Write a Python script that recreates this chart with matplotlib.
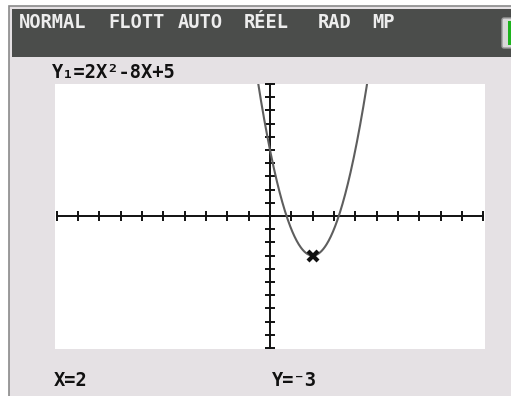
import numpy as np
import matplotlib; matplotlib.use("Agg")
import matplotlib.pyplot as plt
from matplotlib.patches import Rectangle, FancyBboxPatch

# graph of Y1 = 2X^2 - 8X + 5 in the standard window, trace cursor at X=2
coeffs = [2, -8, 5]
xmin, xmax, ymin, ymax = -10, 10, -10, 10
xticks = list(range(-10, 11))
yticks = list(range(-10, 11))
trace_x = 2
trace_y = np.polyval(coeffs, trace_x)

status_words = ["NORMAL", "FLOTT", "AUTO", "RÉEL", "RAD", "MP"]
status_cx = [52.5, 136.5, 200, 266, 335, 383.5]
func_label = "Y₁=2X²-8X+5"

W, H = 511, 396
fig = plt.figure(figsize=(W / 100, H / 100), dpi=100)
fig.patch.set_facecolor("white")

# screen frame in pixel coordinates
bg = fig.add_axes([0, 0, 1, 1])
bg.set_xlim(0, W); bg.set_ylim(H, 0); bg.axis("off")
bg.add_patch(Rectangle((9, 6), W, H, fc="#e5e1e4", ec="#8a8a8a", lw=1.2))
bg.add_patch(Rectangle((12, 9), W, 48, fc="#4b4d4b", ec="none"))
bg.add_patch(FancyBboxPatch((502, 18), 20, 30, boxstyle="round,pad=0,rounding_size=2",
                            fc="#d8d8d8", ec="#9a9a9a", lw=1))
bg.add_patch(Rectangle((507.5, 21), 10, 24, fc="#1db31d", ec="none"))

mono = dict(family="DejaVu Sans Mono", weight="bold")
for w, cx in zip(status_words, status_cx):
    bg.text(cx, 22, w, color="#ededed", fontsize=13.5, va="center", ha="center", **mono)
bg.text(52, 72, func_label, color="#111111", fontsize=13.5, va="center", ha="left", **mono)
bg.text(54, 381, f"X={trace_x:g}", color="#111111", fontsize=13.5, va="center", ha="left", **mono)
bg.text(272, 381, f"Y={trace_y:g}".replace("-", "⁻"), color="#111111", fontsize=13.5,
        va="center", ha="left", **mono)

# graph screen
ax = fig.add_axes([55 / W, 1 - 349 / H, 430 / W, 265.5 / H])
ax.set_facecolor("white")
ax.set_xlim(-10.08, 10.08); ax.set_ylim(-10.08, 10.04)
for s in ax.spines.values():
    s.set_visible(False)
ax.set_xticks([]); ax.set_yticks([])

ax.plot([xmin, xmax], [0, 0], c="#111111", lw=1.4, clip_on=False)
ax.plot([0, 0], [ymin, ymax], c="#111111", lw=1.4, clip_on=False)
ax.plot(xticks, np.zeros(len(xticks)), ls="none", marker="|", ms=7, mew=1.4, c="#111111", clip_on=False)
ax.plot(np.zeros(len(yticks)), yticks, ls="none", marker="_", ms=7, mew=1.4, c="#111111", clip_on=False)

xs = np.linspace(xmin, xmax, 801)
ax.plot(xs, np.polyval(coeffs, xs), c="#5e5e5e", lw=1.5)
ax.plot([trace_x], [trace_y], ls="none", marker="x", ms=7, mew=3, c="#111111")

plt.savefig("out.png", dpi=100)
